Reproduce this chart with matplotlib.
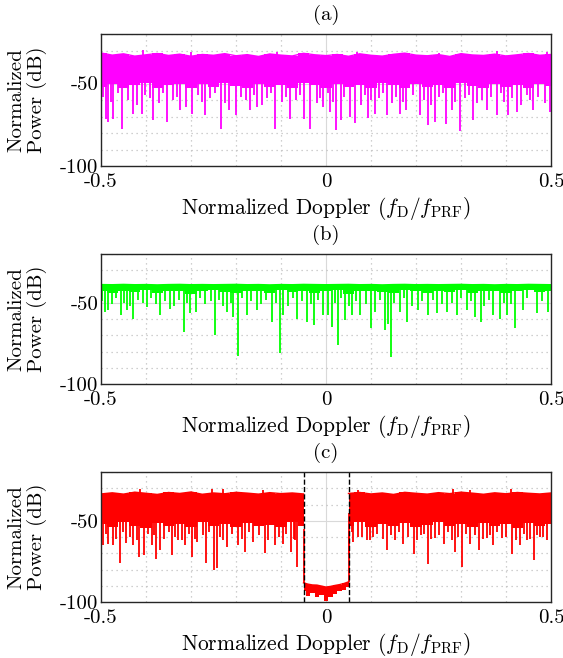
import numpy as np
import matplotlib
matplotlib.use('Agg')
import matplotlib.pyplot as plt
from matplotlib.ticker import MultipleLocator

plt.rcParams['font.family'] = 'serif'
plt.rcParams['font.serif'] = ['cmr10']
plt.rcParams['mathtext.fontset'] = 'cm'
plt.rcParams['axes.unicode_minus'] = False

# ---- data (dB) ----
# band knots every 0.025 from -0.5 to 0.5
band_x = np.linspace(-0.5, 0.5, 41)

# (a) magenta
a_top = [-31.5, -32.8, -32.0, -33.4, -32.6, -31.8, -33.0, -32.2, -33.5, -32.4, -32.9,
         -31.9, -33.2, -32.5, -33.6, -32.1, -32.8, -33.3, -31.7, -32.6, -33.1, -32.4,
         -33.5, -32.0, -32.9, -33.4, -32.3, -31.6, -32.8, -33.2, -32.5, -33.6, -31.9,
         -32.7, -33.0, -32.2, -33.3, -32.6, -31.8, -32.9, -32.4]
a_bot = [-52, -50, -53, -51, -49.5, -52.5, -51, -50, -53, -50.5, -52, -49.5, -51.5, -53,
         -50, -52, -51, -52.5, -49.5, -51, -53, -50, -52, -51, -52.5, -49.5, -51, -53,
         -50, -52, -51, -53, -49.5, -51.5, -52.5, -50, -52, -51, -53, -50, -51.5]
a_spike_x = [-0.489, -0.484, -0.473, -0.454, -0.428, -0.410, -0.385, -0.353, -0.324, -0.298,
             -0.269, -0.233, -0.215, -0.201, -0.169, -0.154, -0.113, -0.080, -0.050, -0.036,
             -0.006, 0.009, 0.022, 0.033, 0.053, 0.064, 0.094, 0.109, 0.135, 0.164, 0.178,
             0.209, 0.227, 0.242, 0.267, 0.279, 0.298, 0.327, 0.357, 0.379, 0.405, 0.424,
             0.461, 0.498]
a_spike_y = [-71.3, -73.3, -71.3, -77.3, -68.3, -68.3, -71.9, -73.3, -66.3, -68.3, -69.3,
             -77.3, -66.3, -69.3, -66.3, -64.3, -77.3, -71.3, -71.3, -77.3, -64.3,
             -67.3, -77.9, -72.3, -70.3, -73.9, -70.7, -68.3, -69.3, -68.3, -66.3, -69.3,
             -75.3, -73.3, -74.3, -66.3, -78.7, -71.9, -66.3, -69.3, -69.3, -67.3, -66.3,
             -67.3]
a_short_x = [-0.496, -0.478, -0.462, -0.441, -0.419, -0.402, -0.392, -0.371, -0.362, -0.341,
             -0.332, -0.311, -0.284, -0.276, -0.258, -0.246, -0.225, -0.188, -0.178, -0.161,
             -0.143, -0.131, -0.122, -0.098, -0.088, -0.067, -0.058, -0.021, -0.013, 0.004,
             0.016, 0.041, 0.078, 0.086, 0.101, 0.118, 0.127, 0.146, 0.156, 0.171,
             0.193, 0.218, 0.234, 0.252, 0.259, 0.287, 0.309, 0.318, 0.336, 0.347,
             0.366, 0.388, 0.396, 0.414, 0.433, 0.446, 0.453, 0.471, 0.486]
a_short_y = [-58, -61, -56, -60, -63, -57, -59, -62, -56, -60,
             -58, -64, -57, -61, -59, -56, -62, -58, -60, -57,
             -63, -59, -56, -61, -58, -60, -57, -62, -59, -56,
             -61, -58, -63, -57, -60, -59, -56, -62, -58, -61,
             -57, -60, -63, -58, -56, -61, -59, -57, -62, -60,
             -58, -56, -61, -59, -63, -57, -60, -58, -62]
a_peak_x = [-0.5, -0.406, -0.30, -0.11, 0.069, 0.25, 0.379, 0.49]
a_peak_y = [-30.0, -29.7, -31.0, -31.0, -31.1, -31.3, -30.5, -30.8]

# (b) green
b_top = [-38.8, -38.9, -38.7, -38.9, -38.8, -39.0, -38.8, -38.7, -38.9, -38.8, -38.9,
         -38.8, -38.7, -38.9, -38.8, -39.0, -38.8, -38.9, -38.7, -38.8, -38.9, -38.8,
         -38.7, -38.9, -38.8, -39.0, -38.8, -38.7, -38.9, -38.8, -38.9, -38.8, -38.7,
         -38.9, -38.8, -39.0, -38.8, -38.9, -38.7, -38.8, -38.9]
b_bot = [-43, -44, -42.5, -43.5, -42, -44, -43, -42.5, -44.5, -43, -42, -43.5, -44, -42.5,
         -43, -44, -42, -43.5, -42.5, -44, -43, -42, -44.5, -43, -42.5, -43.5, -44, -42,
         -43, -44, -42.5, -43.5, -42, -44, -43, -42.5, -44, -43, -42, -43.5, -43]
b_spike_x = [-0.491, -0.484, -0.456, -0.443, -0.428, -0.398, -0.369, -0.347, -0.316, -0.302,
             -0.289, -0.247, -0.221, -0.206, -0.196, -0.176, -0.154, -0.121, -0.102, -0.095,
             -0.065, -0.043, -0.026, -0.006,
             0.004, 0.013, 0.026, 0.042, 0.057, 0.076, 0.100, 0.109, 0.131, 0.138, 0.144,
             0.164, 0.181, 0.205, 0.227, 0.246, 0.268, 0.290, 0.313, 0.331, 0.344, 0.372,
             0.387, 0.402, 0.420, 0.438, 0.468, 0.494]
b_spike_y = [-55.6, -54.6, -57.7, -54.6, -59.7, -52.6, -57.7, -53.6, -67.9, -56.6,
             -55.6, -69.9, -55.6, -58.7, -82.6, -57.7, -54.6, -61.8, -81.2, -57.7,
             -59.7, -61.8, -63.8, -57.7,
             -57.7, -65.2, -76.1, -60.7, -57.7, -57.7, -65.8, -55.6, -66.9, -62.8, -83.2,
             -55.6, -61.8, -54.6, -57.7, -56.6, -55.6, -57.7, -54.6, -58.7, -61.8, -57.7,
             -60.3, -57.7, -65.8, -54.6, -56.6, -55.6]
b_short_x = [-0.497, -0.476, -0.466, -0.449, -0.435, -0.417, -0.407, -0.388, -0.377, -0.358,
             -0.338, -0.327, -0.308, -0.281, -0.268, -0.256, -0.238, -0.229, -0.212, -0.186,
             -0.167, -0.145, -0.133, -0.112, -0.084, -0.073, -0.054, -0.034, -0.017, 0.019,
             0.034, 0.050, 0.067, 0.088, 0.119, 0.152, 0.173, 0.192, 0.214, 0.237,
             0.257, 0.279, 0.301, 0.322, 0.352, 0.363, 0.395, 0.411, 0.447, 0.481]
b_short_y = [-49, -51, -47, -50, -52, -48, -50, -47, -51, -49,
             -52, -48, -50, -47, -51, -49, -48, -52, -50, -47,
             -49, -51, -48, -50, -52, -47, -49, -51, -48, -50,
             -47, -52, -49, -51, -48, -50, -47, -52, -49, -48,
             -51, -50, -47, -49, -52, -48, -50, -51, -47, -49]

# (c) red, with a notch between -0.05 and 0.05
c_left_x = np.linspace(-0.5, -0.05, 19)
c_right_x = np.linspace(0.05, 0.5, 19)
c_top_left = [-33.5, -32.8, -33.6, -32.4, -33.1, -33.8, -32.6, -33.2, -32.3, -33.7,
              -32.9, -33.4, -32.5, -33.0, -33.6, -32.7, -33.3, -32.9, -33.5]
c_bot_left = [-52, -54, -51, -53, -54.5, -51.5, -53, -52, -54, -51, -53.5, -52, -54,
              -51.5, -53, -52.5, -54, -51, -53]
c_top_right = [-33.2, -32.6, -33.5, -32.9, -33.8, -32.5, -33.1, -33.6, -32.7, -33.3,
               -32.4, -33.0, -33.7, -32.8, -33.4, -32.6, -33.1, -33.5, -32.9]
c_bot_right = [-53, -51, -54, -52, -53.5, -51.5, -54, -52.5, -51, -53.5, -52, -54, -51.5,
               -53, -52, -54.5, -51.5, -53, -52]
notch_x = np.linspace(-0.05, 0.05, 11)
notch_top = [-88.2, -89.0, -89.5, -89.6, -90.2, -90.8, -90.4, -89.8, -89.3, -88.6, -87.6]
notch_bot = [-93.0, -96.5, -94.5, -97.0, -95.5, -99.5, -97.0, -95.0, -93.5, -92.5, -91.0]
c_spike_x = [-0.495, -0.484, -0.473, -0.458, -0.444, -0.428, -0.415, -0.404, -0.387, -0.378,
             -0.369, -0.343, -0.330, -0.313, -0.298, -0.287, -0.267, -0.250, -0.243, -0.221,
             -0.195, -0.180, -0.162, -0.136, -0.113, -0.095, -0.078, -0.069, -0.064,
             0.052, 0.061, 0.072, 0.090, 0.105, 0.135, 0.153, 0.172, 0.196, 0.211, 0.227,
             0.242, 0.262, 0.287, 0.302, 0.320, 0.331, 0.341, 0.357, 0.372, 0.390, 0.413,
             0.431, 0.446, 0.462, 0.476, 0.490]
c_spike_y = [-65.0, -64.6, -65.0, -76.3, -63.4, -65.0, -72.2, -71.2, -65.0, -73.6,
             -68.1, -71.2, -62.0, -65.0, -72.2, -63.0, -75.7, -80.0, -79.3, -66.1,
             -65.0, -69.1, -63.0, -70.1, -65.0, -64.6, -69.1, -62.0, -78.3,
             -71.2, -63.0, -59.9, -62.0, -59.9, -68.1, -62.0, -64.0, -70.7, -58.9, -76.9,
             -60.9, -64.0, -69.1, -78.3, -64.0, -58.9, -68.1, -60.5, -65.0, -60.9, -70.7,
             -65.0, -62.0, -74.2, -59.9, -62.0]
c_short_x = [-0.490, -0.467, -0.451, -0.436, -0.421, -0.396, -0.382, -0.361, -0.350, -0.336,
             -0.321, -0.305, -0.292, -0.274, -0.259, -0.236, -0.228, -0.210, -0.187, -0.171,
             -0.150, -0.128, -0.104, -0.088, -0.072,
             0.057, 0.080, 0.098, 0.114, 0.126, 0.145, 0.162, 0.183, 0.203, 0.218,
             0.234, 0.250, 0.270, 0.279, 0.294, 0.312, 0.349, 0.365, 0.381, 0.399,
             0.422, 0.439, 0.454, 0.469, 0.483]
c_short_y = [-58, -61, -57, -60, -62, -58, -59, -61, -57, -60,
             -62, -58, -61, -59, -57, -60, -62, -58, -61, -57,
             -59, -62, -60, -58, -61, -57, -60, -62, -58, -61,
             -59, -57, -60, -62, -58, -61, -59, -57, -62, -60,
             -58, -61, -59, -57, -60, -62, -58, -61, -59, -60]
c_peak_x = [-0.413, -0.254, -0.228, -0.14, 0.072, 0.282, 0.32, 0.41]
c_peak_y = [-30.2, -30.2, -30.5, -31.0, -30.8, -30.2, -31.0, -30.2]

xticks = [-0.5, 0, 0.5]
xtick_labels = ['-0.5', '0', '0.5']
yticks = [-100, -50]
ytick_labels = ['-100', '-50']


def style_axes(ax, title):
    ax.set_xlim(-0.5, 0.5)
    ax.set_ylim(-100, -20)
    ax.set_xticks(xticks)
    ax.set_xticklabels(xtick_labels)
    ax.set_yticks(yticks)
    ax.set_yticklabels(ytick_labels)
    ax.xaxis.set_minor_locator(MultipleLocator(0.1))
    ax.yaxis.set_minor_locator(MultipleLocator(10))
    ax.grid(True, which='major', color='#d9d9d9', lw=0.8, ls='-')
    ax.grid(True, which='minor', color='#c0c0c0', lw=0.9, ls=(0, (1, 3)))
    ax.set_axisbelow(True)
    ax.tick_params(which='both', direction='in', length=0, labelsize=15)
    ax.tick_params(axis='x', pad=5)
    ax.tick_params(axis='y', pad=2)
    for s in ax.spines.values():
        s.set_color('#262626')
        s.set_linewidth(1.0)
    ax.set_title(title, fontsize=15, pad=10)
    ax.set_xlabel(r'Normalized Doppler $(f_\mathrm{D}/f_\mathrm{PRF})$', fontsize=15.5,
                  labelpad=3)
    ax.set_ylabel('Normalized\nPower (dB)', fontsize=15, labelpad=9, linespacing=1.15)


def draw_band(ax, x, top, bot, color, step='mid'):
    ax.fill_between(x, bot, top, color=color, lw=0, step=step)
    ax.plot(x, top, color=color, lw=1.0)


fig = plt.figure(figsize=(5.63, 6.58), dpi=100)
left, width = 101 / 563, 450 / 563
ax_a = fig.add_axes([left, 1 - 166 / 658, width, 132 / 658])
ax_b = fig.add_axes([left, 1 - 384 / 658, width, 130 / 658])
ax_c = fig.add_axes([left, 1 - 602 / 658, width, 130 / 658])

# (a)
col_a = '#ff00ff'
draw_band(ax_a, band_x, a_top, a_bot, col_a)
ax_a.vlines(a_short_x, a_short_y, -45, color=col_a, lw=1.3)
ax_a.vlines(a_spike_x, a_spike_y, -45, color=col_a, lw=1.3)
ax_a.vlines(a_peak_x, -34, a_peak_y, color=col_a, lw=1.3)
style_axes(ax_a, '(a)')

# (b)
col_b = '#00ff00'
draw_band(ax_b, band_x, b_top, b_bot, col_b)
ax_b.vlines(b_short_x, b_short_y, -41, color=col_b, lw=1.3)
ax_b.vlines(b_spike_x, b_spike_y, -41, color=col_b, lw=1.3)
style_axes(ax_b, '(b)')

# (c)
col_c = '#ff0000'
draw_band(ax_c, c_left_x, c_top_left, c_bot_left, col_c)
draw_band(ax_c, c_right_x, c_top_right, c_bot_right, col_c)
draw_band(ax_c, notch_x, notch_top, notch_bot, col_c)
ax_c.vlines(c_short_x, c_short_y, -45, color=col_c, lw=1.3)
ax_c.vlines(c_spike_x, c_spike_y, -45, color=col_c, lw=1.3)
ax_c.vlines(c_peak_x, -34, c_peak_y, color=col_c, lw=1.3)
ax_c.vlines([-0.05, 0.05], [-88.2, -87.6], [-55, -56], color=col_c, lw=1.3)
ax_c.axvline(-0.05, color='k', ls='--', lw=1.0)
ax_c.axvline(0.05, color='k', ls='--', lw=1.0)
style_axes(ax_c, '(c)')

fig.savefig('out.png', dpi=100)
